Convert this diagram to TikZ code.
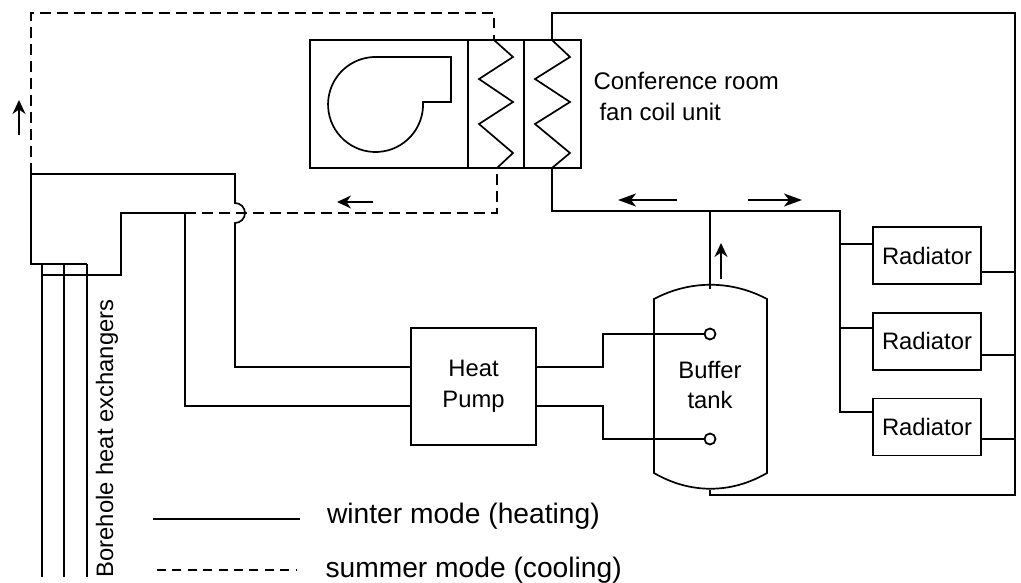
\documentclass[tikz,border=0pt]{standalone}
\usepackage{fontspec}
\setmainfont{Liberation Sans}
\usetikzlibrary{positioning}
\usetikzlibrary{calc}
\usetikzlibrary{arrows.meta}

\begin{document}
\begin{tikzpicture}[x=1pt, y=-1pt,
        pipe/.style={line width=1.7pt, line join=miter},
        cool/.style={pipe, dash pattern=on 10.5pt off 6.5pt},
        flow/.style={-{Stealth[length=14pt, width=13pt, inset=4.5pt]}, line width=1.6pt},
        BOX/.style={rectangle, draw=black, fill=white, line width=1.7pt, inner sep=0pt, align=center, font=\fontsize{23.8}{31}\selectfont},
        RAD/.style={BOX, minimum width=108pt, minimum height=57pt},
        PORT/.style={circle, draw, line width=1.8pt, minimum size=11pt, inner sep=0pt}]
        \useasboundingbox (0,0) rectangle (1021,583);

        % fan coil unit
        \draw[pipe] (310,40) rectangle (581,168);
        \draw[pipe] (468,40) -- (468,168);
        \draw[pipe] (524,40) -- (524,168);
        \coordinate (Cool1) at (494,40);
        \coordinate (Cool2) at (497,168);
        \coordinate (Heat1) at (552,40);
        \coordinate (Heat2) at (552,168);
        \draw[pipe] (Cool1) -- (513,57) -- (479,79) -- (513,102) -- (479,124) -- (513,153) -- (Cool2);
        \draw[pipe] (Heat1) -- (570,57) -- (535,79) -- (570,102) -- (535,124) -- (570,153) -- (Heat2);
        \draw[pipe] (375.5,57) -- (451,57) -- (451,102) -- (423,102) arc[start angle=-3, end angle=270, radius=47.5] -- cycle;
        \node[anchor=west, align=left, font=\fontsize{24}{31}\selectfont] (fcu) at (590,96) {Conference room\\ \hspace*{6pt}fan coil unit};

        % heat pump and tank
        \node[BOX, minimum width=125pt, minimum height=117pt] (HP) at (473.5,386.5) {Heat\\Pump};
        \draw[pipe] (654,299) .. controls (690,280) and (731,280) .. (767,299) -- (767,473) .. controls (731,494) and (690,494) .. (654,473) -- cycle;
        \node[align=center, font=\fontsize{23.8}{30}\selectfont] (tank) at (710,385) {Buffer\\tank};
        \node[PORT] (P1) at (710,334) {};
        \node[PORT] (P2) at (710,439) {};
        \coordinate (TankTop) at (710,289);
        \coordinate (TankBot) at (710,490);

        % radiators
        \node[RAD] (R1) at (927,255.5) {Radiator};
        \node[RAD, below = 27pt of R1] (R2) {Radiator};
        \node[RAD, below = 27pt of R2] (R3) {Radiator};

        % winter circuit
        \coordinate (Riser) at (1015,13);
        \coordinate (Main) at (840,211);
        \coordinate (Tee) at (710,211);
        \draw[pipe] (Heat1) -- (552,13) -- (Riser) -- (1015,495) -- (710,495) -- (TankBot);
        \draw[pipe] (Heat2) -- (552,211) -- (Main) -- (840,412) -- (873,412);
        \draw[pipe] (840,244) -- (873,244);
        \draw[pipe] (840,328) -- (873,328);
        \draw[pipe] (Tee) -- (TankTop);
        \draw[pipe] (981,272) -- (1015,272);
        \draw[pipe] (981,355) -- (1015,355);
        \draw[pipe] (981,439) -- (1015,439);
        \draw[pipe] (536,367) -- (603,367) -- (603,334) -- (P1);
        \draw[pipe] (536,406) -- (603,406) -- (603,439) -- (P2);

        % boreholes
        \coordinate (J1) at (31,174);
        \coordinate (J2) at (185,213);
        \coordinate (J3) at (121,213);
        \draw[pipe] (J1) -- (235,174) -- (235,203) arc[start angle=-90, end angle=90, radius=10] -- (235,367) -- (411,367);
        \draw[pipe] (J1) -- (31,264) -- (87,264);
        \draw[pipe] (42,275) -- (121,275) -- (J3) -- (J2) -- (185,406) -- (411,406);
        \foreach \bx in {42,64,87}
            \draw[pipe] (\bx,264) -- (\bx,577);
        \node[rotate=90, anchor=west, font=\fontsize{23.8}{28}\selectfont] (bore) at (107,581) {Borehole heat exchangers};

        % summer circuit
        \draw[cool] (J1) -- (31,13) -- (494,13) -- (Cool1);
        \draw[cool] (J2) -- (497,213) -- (Cool2);

        % flow arrows
        \draw[flow] (19,135) -- (19,100);
        \draw[flow] (373,202) -- (337,202);
        \draw[flow, -{Stealth[length=18pt, width=13pt, inset=5pt]}] (677,200) -- (618,200);
        \draw[flow, -{Stealth[length=18pt, width=13pt, inset=5pt]}] (748,200) -- (802,200);
        \draw[flow] (721,279) -- (721,243);

        % legend
        \coordinate (L1) at (153,519);
        \coordinate (L2) at (300,519);
        \coordinate (L3) at (157,570);
        \coordinate (L4) at (297,570);
        \draw[pipe] (L1) -- (L2);
        \draw[pipe, dash pattern=on 9pt off 6.4pt] (L3) -- (L4);
        \node[anchor=base west, font=\fontsize{28.2}{32}\selectfont] (winter) at (323.5,523) {winter mode (heating)};
        \node[anchor=base west, font=\fontsize{28.2}{32}\selectfont] (summer) at (322,577) {summer mode (cooling)};
    \end{tikzpicture}
\end{document}
